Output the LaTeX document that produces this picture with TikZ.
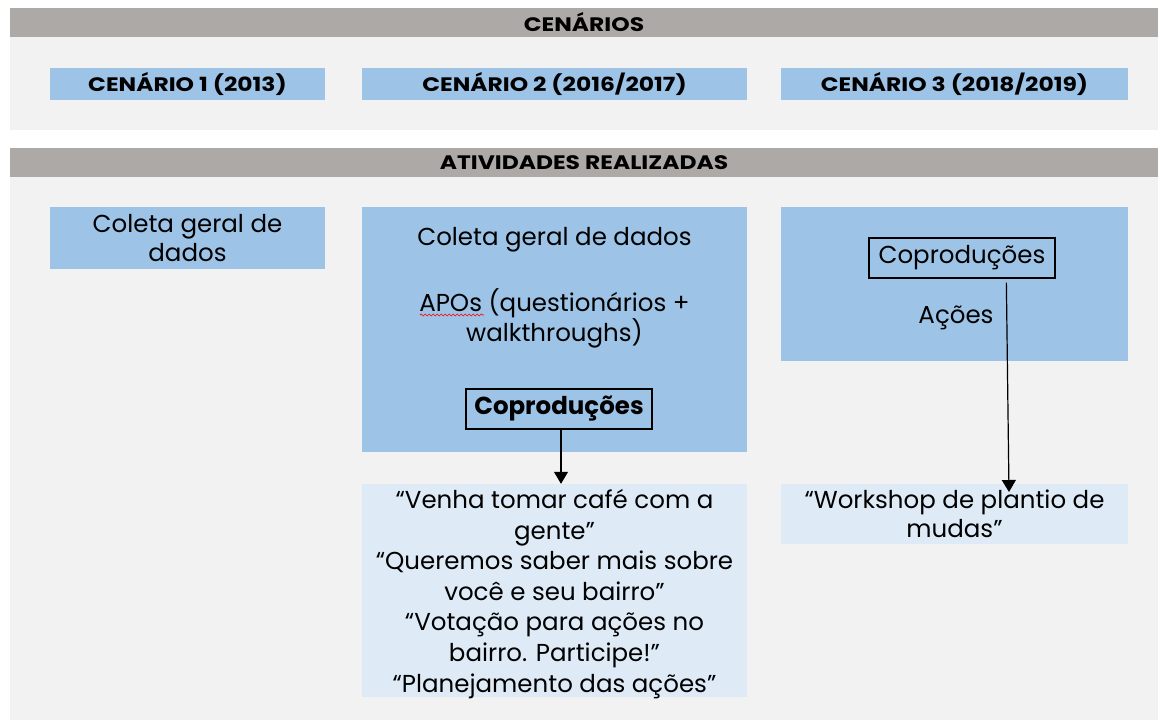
\documentclass[tikz,border=0pt]{standalone}
\usepackage{fontspec}
\setmainfont{Poppins}
\newfontfamily\headfont[FakeStretch=1.2]{Poppins}
\usetikzlibrary{arrows.meta,calc,decorations.pathmorphing}
\definecolor{headgray}{RGB}{173,169,167}
\definecolor{panelgray}{RGB}{242,242,242}
\definecolor{boxblue}{RGB}{157,195,230}
\definecolor{paleblue}{RGB}{222,235,247}
\begin{document}
\begin{tikzpicture}[x=1pt,y=-1pt,
    head/.style={fill=headgray,inner sep=0,minimum width=1148pt,minimum height=29pt,
      font=\headfont\fontsize{19.5}{22}\selectfont\bfseries},
    panel/.style={fill=panelgray,inner sep=0,minimum width=1148pt},
    scen/.style={fill=boxblue,inner sep=0,minimum height=32pt,
      font=\headfont\fontsize{19.5}{22}\selectfont\bfseries},
    act/.style={fill=boxblue,inner sep=0},
    quote/.style={fill=paleblue,inner sep=0,align=center,
      font=\fontsize{24.5}{30.6}\selectfont},
    txt/.style={inner sep=0,align=center,font=\fontsize{24.5}{29.5}\selectfont},
    cobox/.style={draw,line width=1.2pt,inner sep=0,minimum width=186pt,minimum height=40pt,
      font=\fontsize{24.5}{28}\selectfont},
    arr/.style={-{Triangle[length=12pt,width=14pt]},line width=1.2pt}]
  \useasboundingbox[fill=white] (0,0) rectangle (1160,722);
  % cenarios
  \node[panel,minimum height=93pt] (pn1) at (584,83.5) {};
  \node[head] (hd1) at (584,22.5) {CENÁRIOS};
  \node[scen,minimum width=275pt] (c1) at (187.5,84) {CENÁRIO 1 (2013)};
  \node[scen,minimum width=385pt] (c2) at (554.5,84) {CENÁRIO 2 (2016/2017)};
  \node[scen,minimum width=347pt] (c3) at (954.5,84) {CENÁRIO 3 (2018/2019)};
  % atividades
  \node[panel,minimum height=543pt] (pn2) at (584,448.5) {};
  \node[head] (hd2) at (584,162.5) {ATIVIDADES REALIZADAS};
  \node[act,minimum width=275pt,minimum height=62pt,txt] (a1) at (187.5,238)
    {Coleta geral de\\dados};
  \node[act,minimum width=385pt,minimum height=245pt] (a2) at (554.5,329.5) {};
  \node[act,minimum width=347pt,minimum height=154pt] (a3) at (954.5,284) {};
  \node[txt] (a2t1) at (554.5,240) {Coleta geral de dados};
  \node[txt,font=\fontsize{24.5}{30}\selectfont] (a2t2) at (554.5,318)
    {APOs (questionários +\\walkthroughs)};
  \node[txt] (a3t1) at (956,318) {Ações};
  \node[cobox,font=\fontsize{24.5}{28}\selectfont\bfseries] (cp2) at (559,409) {Coproduções};
  \node[cobox] (cp3) at (962,258) {Coproduções};
  \node[quote,minimum width=385pt,minimum height=213pt] (q2) at (554.5,590.5) {};
  \node[quote,fill=none] (q2t) at (554.5,594)
    {“Venha tomar café com a\\gente”\\“Queremos saber mais sobre\\você e seu bairro”\\
     “Votação para ações no\\bairro. Participe!”\\“Planejamento das ações”};
  \node[quote,minimum width=347pt,minimum height=60pt,
    font=\fontsize{24.5}{29.5}\selectfont] (q3) at (954.5,514)
    {“Workshop de plantio de\\mudas”};
  % spelling mark
  \draw[red,line width=0.7pt,decorate,decoration={snake,segment length=4pt,amplitude=1pt}]
    (420,315) -- (484,315);
  % arrows
  \coordinate (top2) at ($(cp2.south)+(2,0)$);
  \coordinate (top3) at ($(cp3.south west)!0.737!(cp3.south east)+(0,4)$);
  \coordinate (tip3) at (1009,492);
  \draw[arr] (top2) -- (top2 |- q2.north);
  \draw[arr] (top3) -- (tip3);
\end{tikzpicture}
\end{document}
